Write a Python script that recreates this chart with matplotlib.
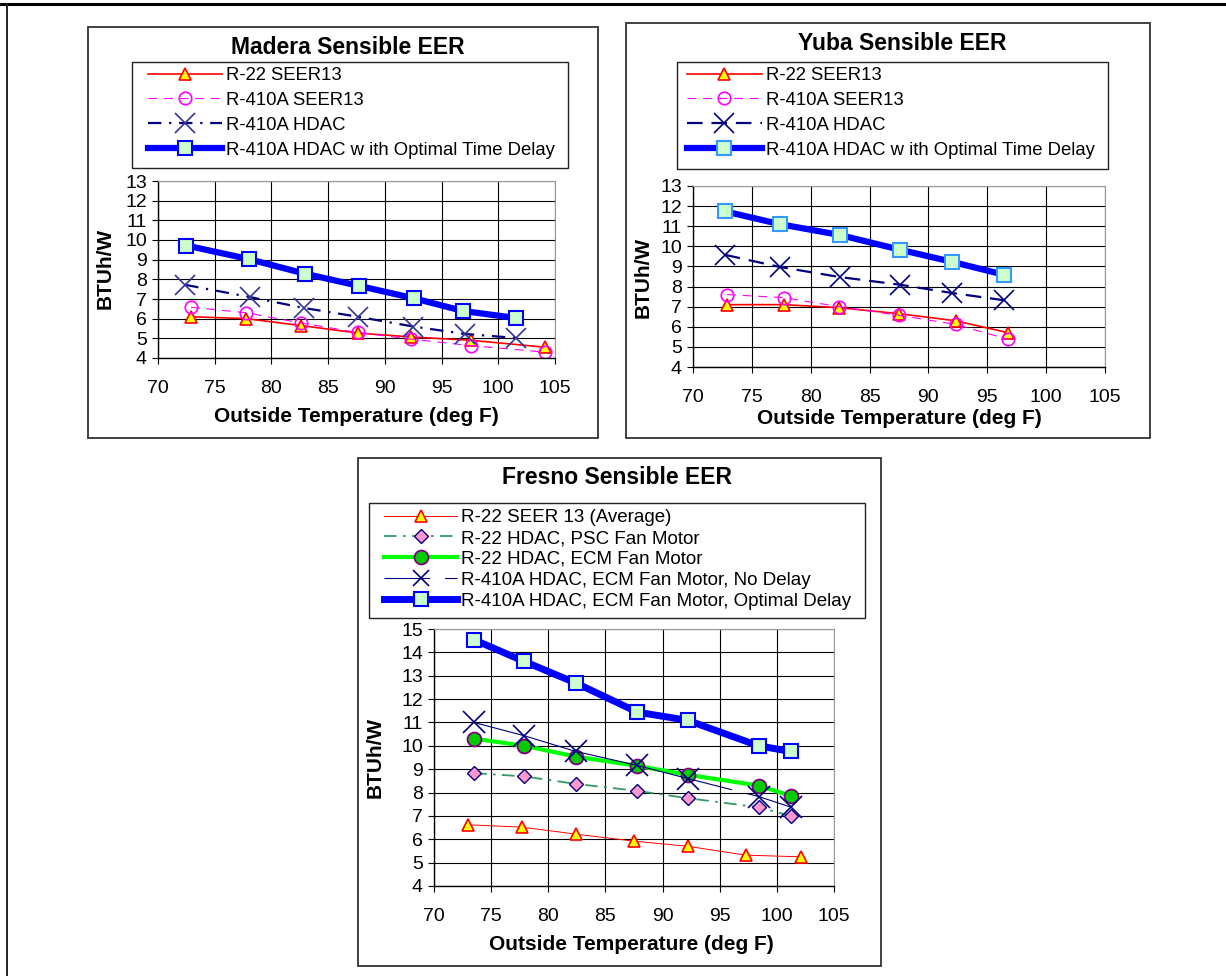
import numpy as np
import matplotlib.pyplot as plt
from matplotlib.patches import Rectangle
from matplotlib.lines import Line2D

plt.rcParams['font.family'] = ['Liberation Sans', 'DejaVu Sans']

W, H = 1226, 976

# ---- Madera
madera_t_seer = [72.9, 77.8, 82.6, 87.6, 92.3, 97.6, 104.1]
madera_r22 = [6.1, 6.0, 5.65, 5.27, 5.07, 4.9, 4.55]
madera_r410 = [6.58, 6.3, 5.78, 5.3, 4.96, 4.63, 4.3]
madera_t_hdac = [72.4, 78.1, 82.9, 87.6, 92.5, 97.1, 101.6]
madera_hdac = [7.72, 7.1, 6.54, 6.1, 5.6, 5.22, 5.02]
madera_t_opt = [72.5, 78.0, 83.0, 87.7, 92.6, 96.9, 101.6]
madera_opt = [9.72, 9.03, 8.28, 7.67, 7.03, 6.39, 6.03]

# ---- Yuba
yuba_t_seer = [72.9, 77.7, 82.4, 87.5, 92.3, 96.8]
yuba_r22 = [7.1, 7.1, 6.95, 6.65, 6.3, 5.7]
yuba_r410 = [7.6, 7.45, 7.0, 6.57, 6.12, 5.37]
yuba_t_hdac = [72.7, 77.4, 82.5, 87.6, 92.0, 96.4]
yuba_hdac = [9.58, 8.97, 8.47, 8.09, 7.68, 7.32]
yuba_opt = [11.74, 11.1, 10.56, 9.83, 9.23, 8.59]

# ---- Fresno
fresno_t_seer = [73.0, 77.7, 82.4, 87.5, 92.2, 97.3, 102.1]
fresno_r22 = [6.62, 6.52, 6.22, 5.92, 5.7, 5.32, 5.25]
fresno_t_hdac = [73.5, 77.9, 82.4, 87.8, 92.2, 98.4, 101.2]
fresno_psc = [8.83, 8.69, 8.37, 8.07, 7.76, 7.37, 7.0]
fresno_ecm = [10.31, 10.0, 9.54, 9.14, 8.76, 8.3, 7.86]
fresno_nodelay = [11.0, 10.43, 9.76, 9.16, 8.6, 7.83, 7.38]
fresno_opt = [14.54, 13.61, 12.69, 11.44, 11.09, 10.0, 9.76]

fresno_labels = ['R-22 SEER 13 (Average)', 'R-22 HDAC, PSC Fan Motor', 'R-22 HDAC, ECM Fan Motor',
                 'R-410A HDAC, ECM Fan Motor, No Delay', 'R-410A HDAC, ECM Fan Motor, Optimal Delay']

xticks = [70, 75, 80, 85, 90, 95, 100, 105]


def rect(x0, y0, x1, y1):
    return [x0 / W, 1 - y1 / H, (x1 - x0) / W, (y1 - y0) / H]


def fx(x):
    return x / W


def fy(y):
    return 1 - y / H


def box(x0, y0, x1, y1, color='#333333', lw=1.3):
    fig.add_artist(Rectangle((fx(x0), fy(y1)), (x1 - x0) / W, (y1 - y0) / H,
                             transform=fig.transFigure, fill=False,
                             edgecolor=color, lw=lw))


fig = plt.figure(figsize=(W / 100, H / 100), dpi=100)

# page border (top and left only)
fig.add_artist(Line2D([0, 1], [fy(4), fy(4)], color='black', lw=2.2))
fig.add_artist(Line2D([fx(7), fx(7)], [fy(4), 0], color='#222222', lw=1.4))

# chart boxes
box(88, 27, 598, 438)
box(626, 23, 1150, 438)
box(358, 458, 881, 966)


def style_axes(ax, ymax):
    ax.set_xlim(70, 105)
    ax.set_ylim(4, ymax)
    ax.set_xticks(xticks)
    ax.set_yticks(range(4, ymax + 1))
    ax.grid(True, color='black', lw=0.8)
    ax.set_axisbelow(True)
    ax.tick_params(direction='out', length=4, width=0.8, labelsize=14)
    ax.tick_params(axis='x', pad=12)
    ax.tick_params(axis='y', pad=4)
    for s in ['top', 'right']:
        ax.spines[s].set_color('#999999')
    for s in ['left', 'bottom']:
        ax.spines[s].set_linewidth(1.0)


def legend(handles, labels, x0, top, x1, fs, hl, sp):
    fig.legend(handles=handles, labels=labels, loc='upper left',
               bbox_to_anchor=(fx(x0), fy(top)), borderaxespad=0, borderpad=0,
               frameon=False, numpoints=1, handletextpad=0.22, fontsize=fs,
               handlelength=hl, labelspacing=sp)


tri = dict(marker='^', markersize=9, markerfacecolor='#FFFF00', markeredgecolor='#FF0000', markeredgewidth=1.2)
sq = dict(marker='s', markersize=10, markerfacecolor='#CCFFCC', markeredgewidth=1.5)

# ---------------- Madera
ax1 = fig.add_axes(rect(158, 181, 555, 358))
l1, = ax1.plot(madera_t_seer, madera_r22, color='#FF0000', lw=1.2, **tri)
l2, = ax1.plot(madera_t_seer, madera_r410, color='#FF00FF', lw=0.8, ls=(0, (8, 6)),
               marker='o', markersize=9, markerfacecolor='none', markeredgecolor='#FF00FF',
               markeredgewidth=1.2)
l3, = ax1.plot(madera_t_hdac, madera_hdac, color='#000080', lw=1.6, ls=(0, (6, 3.5, 1, 3.5)),
               marker='x', markersize=14, markeredgecolor='#333399', markeredgewidth=1.2)
l4, = ax1.plot(madera_t_opt, madera_opt, color='#0000FF', lw=4.5, markeredgecolor='#0000FF', **sq)
style_axes(ax1, 13)
box(132, 62, 568, 168, color='#222222', lw=1.0)
legend([l1, l2, l3, l4], ['R-22 SEER13', 'R-410A SEER13', 'R-410A HDAC',
                          'R-410A HDAC w ith Optimal Time Delay'],
       148, 67, 568, 13.3, 4.0, 0.43)
fig.text(fx(348), fy(47), 'Madera Sensible EER', ha='center', va='center',
         fontsize=16.5, fontweight='bold')
fig.text(fx(356), fy(417), 'Outside Temperature (deg F)', ha='center', va='center',
         fontsize=15, fontweight='bold')
fig.text(fx(105), fy(268), 'BTUh/W', ha='center', va='center', rotation=90,
         fontsize=15, fontweight='bold')

# ---------------- Yuba
ax2 = fig.add_axes(rect(693, 186, 1105, 367))
m1, = ax2.plot(yuba_t_seer, yuba_r22, color='#FF0000', lw=1.2, **tri)
m2, = ax2.plot(yuba_t_seer, yuba_r410, color='#FF00FF', lw=0.8, ls=(0, (8, 6)),
               marker='o', markersize=9, markerfacecolor='none', markeredgecolor='#FF00FF',
               markeredgewidth=1.2)
m3, = ax2.plot(yuba_t_hdac, yuba_hdac, color='#000080', lw=1.6, ls=(0, (7, 4)),
               marker='x', markersize=15, markeredgecolor='#000080', markeredgewidth=1.2)
m4, = ax2.plot(yuba_t_hdac, yuba_opt, color='#0000FF', lw=4.5, markeredgecolor='#3399FF', **sq)
style_axes(ax2, 13)
box(677, 62, 1108, 169, color='#222222', lw=1.0)
legend([m1, m2, m3, m4], ['R-22 SEER13', 'R-410A SEER13', 'R-410A HDAC',
                          'R-410A HDAC w ith Optimal Time Delay'],
       687, 67, 1108, 13.3, 4.05, 0.43)
fig.text(fx(902), fy(44), 'Yuba Sensible EER', ha='center', va='center',
         fontsize=16.5, fontweight='bold')
fig.text(fx(899), fy(418), 'Outside Temperature (deg F)', ha='center', va='center',
         fontsize=15, fontweight='bold')
fig.text(fx(643), fy(277), 'BTUh/W', ha='center', va='center', rotation=90,
         fontsize=15, fontweight='bold')

# ---------------- Fresno
ax3 = fig.add_axes(rect(434, 629, 834, 886))
n1, = ax3.plot(fresno_t_seer, fresno_r22, color='#FF0000', lw=0.7, **tri)
n2, = ax3.plot(fresno_t_hdac, fresno_psc, color='#339966', lw=1.3, ls=(0, (7, 3.5, 1.5, 3.5)),
               marker='D', markersize=7, markerfacecolor='#FF99CC', markeredgecolor='#000080',
               markeredgewidth=1.0)
n3, = ax3.plot(fresno_t_hdac, fresno_ecm, color='#00FF00', lw=3, marker='o', markersize=10,
               markerfacecolor='#00CC00', markeredgecolor='#800080', markeredgewidth=1.3)
n4, = ax3.plot(fresno_t_hdac, fresno_nodelay, color='#000080', lw=0.8, ls=(0, (240, 14)),
               marker='x', markersize=16, markeredgecolor='#000080', markeredgewidth=1.2)
n5, = ax3.plot(fresno_t_hdac, fresno_opt, color='#0000FF', lw=5, markeredgecolor='#0000FF', **sq)
n4_leg = Line2D([], [], color='#000080', lw=0.8, ls=(0, (41, 13.5, 20, 0)), marker='x',
                markersize=12, markeredgecolor='#000080', markeredgewidth=1.2)
style_axes(ax3, 15)
box(369, 503, 865, 618, color='#222222', lw=1.0)
legend([n1, n2, n3, n4_leg, n5], fresno_labels, 384, 509, 865, 13.5, 3.9, 0.2)
fig.text(fx(617), fy(478), 'Fresno Sensible EER', ha='center', va='center',
         fontsize=16.5, fontweight='bold')
fig.text(fx(631), fy(945), 'Outside Temperature (deg F)', ha='center', va='center',
         fontsize=15, fontweight='bold')
fig.text(fx(375), fy(757), 'BTUh/W', ha='center', va='center', rotation=90,
         fontsize=15, fontweight='bold')

fig.savefig('out.png', dpi=100)
